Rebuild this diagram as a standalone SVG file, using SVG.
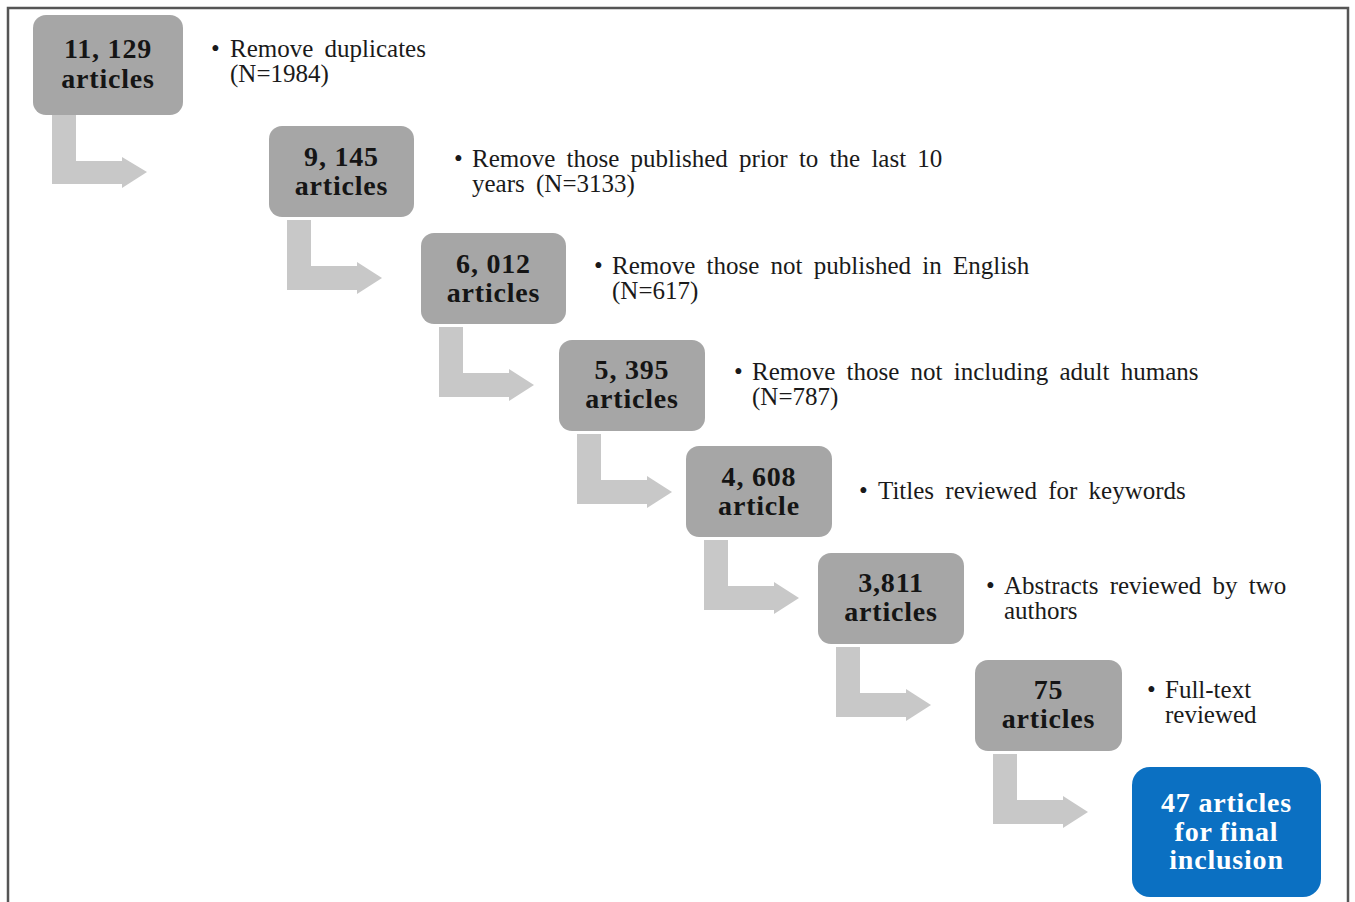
<svg xmlns="http://www.w3.org/2000/svg" width="1355" height="902" viewBox="0 0 1355 902">
<style>
.box{fill:#a6a6a6}
.final{fill:#0b70c2}
.arr{fill:#c8c8c8}
.bt{font-family:"Liberation Serif","Times New Roman",serif;font-weight:bold;font-size:28px;letter-spacing:0.8px;fill:#151515;text-anchor:middle}
.wt{fill:#ffffff}
.nt{font-family:"Liberation Serif","Times New Roman",serif;font-size:25px;word-spacing:5px;fill:#1a1a1a}
</style>
<rect width="1355" height="902" fill="#ffffff"/>
<path d="M8,904 V8 H1348 V904" fill="none" stroke="#555555" stroke-width="2.5"/>
<g id="connectors">
<path class="arr" d="M52,115 H76 V161 H122 V157 L147,172 L122,188 V184 H52 Z"/>
<path class="arr" d="M287,220 H311 V266 H357 V262 L382,278 L357,294 V290 H287 Z"/>
<path class="arr" d="M439,327 H463 V373 H509 V369 L534,385 L509,401 V397 H439 Z"/>
<path class="arr" d="M577,434 H601 V480 H647 V476 L672,492 L647,508 V504 H577 Z"/>
<path class="arr" d="M704,540 H728 V586 H774 V582 L799,598 L774,614 V610 H704 Z"/>
<path class="arr" d="M836,647 H860 V693 H906 V689 L931,705 L906,721 V717 H836 Z"/>
<path class="arr" d="M993,754 H1017 V800 H1063 V796 L1088,812 L1063,828 V824 H993 Z"/>
</g>
<g id="n1">
<rect class="box" x="33" y="15" width="150" height="100" rx="13"/>
<text class="bt" x="108" y="58">11, 129</text>
<text class="bt" x="108" y="88">articles</text>
<text class="nt" x="211" y="57">•</text>
<text class="nt" x="230" y="57">Remove duplicates</text>
<text class="nt" x="230" y="82">(N=1984)</text>
</g>
<g id="n2">
<rect class="box" x="269" y="126" width="145" height="91" rx="13"/>
<text class="bt" x="341.5" y="166">9, 145</text>
<text class="bt" x="341.5" y="195">articles</text>
<text class="nt" x="454" y="167">•</text>
<text class="nt" x="472" y="167">Remove those published prior to the last 10</text>
<text class="nt" x="472" y="192">years (N=3133)</text>
</g>
<g id="n3">
<rect class="box" x="421" y="233" width="145" height="91" rx="13"/>
<text class="bt" x="493.5" y="273">6, 012</text>
<text class="bt" x="493.5" y="302">articles</text>
<text class="nt" x="594" y="274">•</text>
<text class="nt" x="612" y="274">Remove those not published in English</text>
<text class="nt" x="612" y="299">(N=617)</text>
</g>
<g id="n4">
<rect class="box" x="559" y="340" width="146" height="91" rx="13"/>
<text class="bt" x="632" y="379">5, 395</text>
<text class="bt" x="632" y="408">articles</text>
<text class="nt" x="734" y="380">•</text>
<text class="nt" x="752" y="380">Remove those not including adult humans</text>
<text class="nt" x="752" y="405">(N=787)</text>
</g>
<g id="n5">
<rect class="box" x="686" y="446" width="146" height="91" rx="13"/>
<text class="bt" x="759" y="486">4, 608</text>
<text class="bt" x="759" y="515">article</text>
<text class="nt" x="859" y="499">•</text>
<text class="nt" x="878" y="499">Titles reviewed for keywords</text>
</g>
<g id="n6">
<rect class="box" x="818" y="553" width="146" height="91" rx="13"/>
<text class="bt" x="891" y="592">3,811</text>
<text class="bt" x="891" y="621">articles</text>
<text class="nt" x="986" y="594">•</text>
<text class="nt" x="1004" y="594">Abstracts reviewed by two</text>
<text class="nt" x="1004" y="619">authors</text>
</g>
<g id="n7">
<rect class="box" x="975" y="660" width="147" height="91" rx="13"/>
<text class="bt" x="1048.5" y="699">75</text>
<text class="bt" x="1048.5" y="728">articles</text>
<text class="nt" x="1147" y="698">•</text>
<text class="nt" x="1165" y="698">Full-text</text>
<text class="nt" x="1165" y="723">reviewed</text>
</g>
<g id="n8">
<rect class="final" x="1132" y="767" width="189" height="130" rx="18"/>
<text class="bt wt" x="1226.5" y="812">47 articles</text>
<text class="bt wt" x="1226.5" y="841">for final</text>
<text class="bt wt" x="1226.5" y="869">inclusion</text>
</g>
</svg>
